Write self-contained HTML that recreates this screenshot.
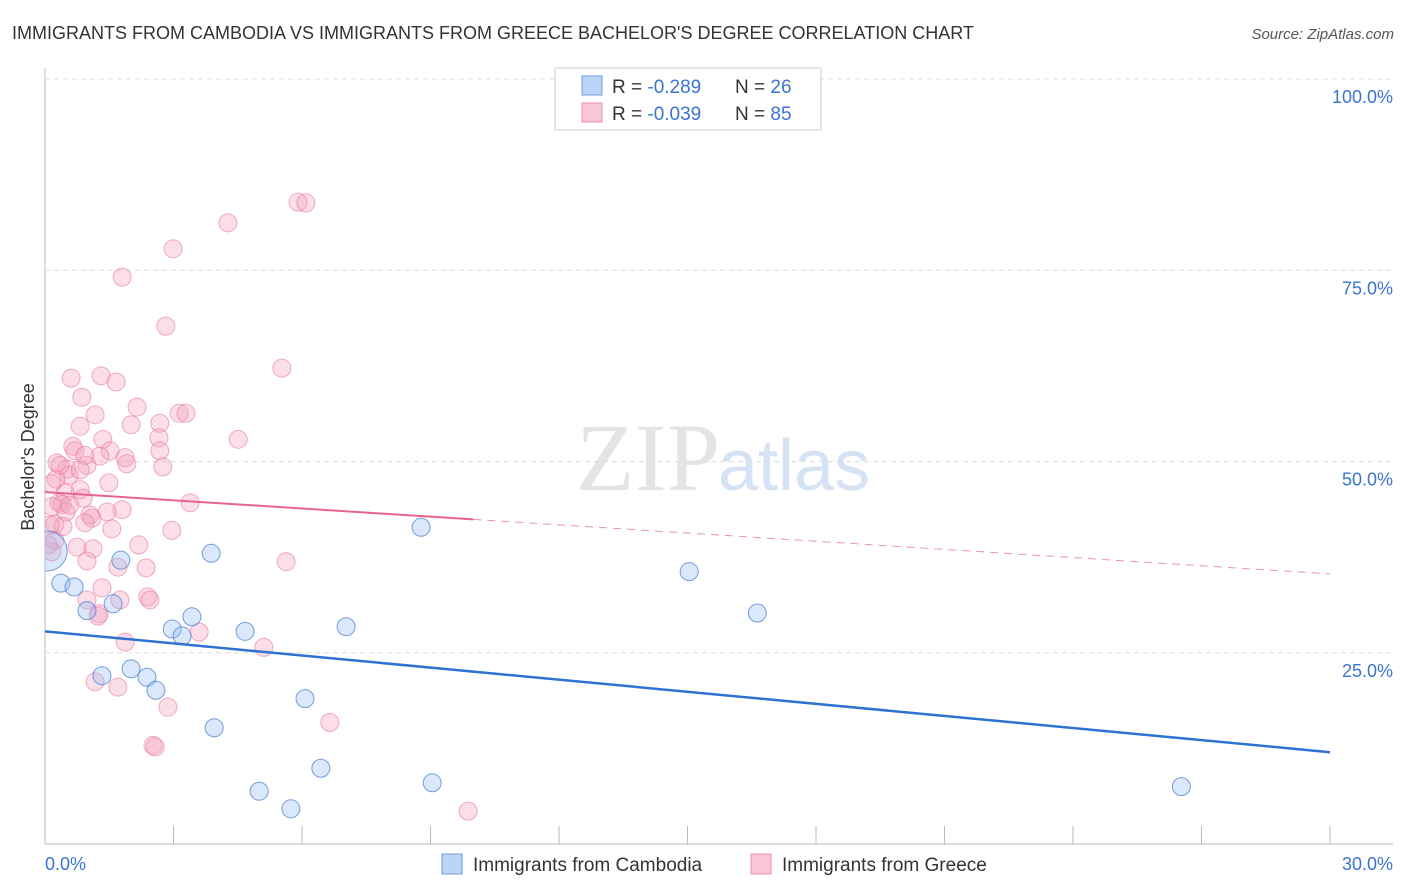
<!DOCTYPE html>
<html><head><meta charset="utf-8"><style>
body{margin:0;background:#fff;font-family:"Liberation Sans",sans-serif}
svg{display:block}
</style></head><body>
<svg id="c" width="1406" height="892" xmlns="http://www.w3.org/2000/svg">
<defs><clipPath id="plot"><rect x="45" y="60" width="1360" height="784"/></clipPath></defs>
<text x="12" y="39" font-size="18" fill="#333">IMMIGRANTS FROM CAMBODIA VS IMMIGRANTS FROM GREECE BACHELOR'S DEGREE CORRELATION CHART</text>
<text x="1394" y="39" font-size="15" fill="#555" font-style="italic" text-anchor="end">Source: ZipAtlas.com</text>
<text x="720" y="490" font-size="96" fill="#e4e4e4" text-anchor="end" font-family="Liberation Serif,serif">ZIP</text>
<text x="718" y="490" font-size="72" fill="#d6e3f4">atlas</text>
<text transform="translate(34,457) rotate(-90)" font-size="18" fill="#333" text-anchor="middle">Bachelor's Degree</text>
<g id="grid"></g><g id="marks" clip-path="url(#plot)"></g>
<g>
<rect x="555" y="68" width="266" height="62" fill="#fff" stroke="#ccc"/>
<rect x="582" y="76" width="20" height="19" fill="#bcd4f5" stroke="#6a9ee6"/>
<rect x="582" y="103" width="20" height="19" fill="#f9c6d6" stroke="#ee90ad"/>
<text x="612" y="93" font-size="19" fill="#333">R = <tspan fill="#3a74d0">-0.289</tspan><tspan x="735">N = </tspan><tspan fill="#3a74d0">26</tspan></text>
<text x="612" y="120" font-size="19" fill="#333">R = <tspan fill="#3a74d0">-0.039</tspan><tspan x="735">N = </tspan><tspan fill="#3a74d0">85</tspan></text>
</g>
<g>
<rect x="442" y="854" width="20" height="20" fill="#bcd4f5" stroke="#6a9ee6"/>
<text x="473" y="871" font-size="19" fill="#333">Immigrants from Cambodia</text>
<rect x="751" y="854" width="20" height="20" fill="#f9c6d6" stroke="#ee90ad"/>
<text x="782" y="871" font-size="19" fill="#333">Immigrants from Greece</text>
</g>
</svg>
<script>
const blueX=[0.05,0.37,0.68,0.98,1.59,1.77,1.33,2.01,2.38,2.59,2.97,3.20,3.43,3.88,3.95,4.67,5.00,5.74,6.07,6.44,7.03,8.78,9.04,15.04,16.63,26.53];
const blueY=[38.3,34.1,33.6,30.5,31.4,37.1,22.0,22.9,21.8,20.1,28.1,27.2,29.7,38.0,15.2,27.8,6.9,4.6,19.0,9.9,28.4,41.4,8.0,35.6,30.2,7.5];
const pinkX=[5.91,6.09,4.27,2.99,1.80,2.82,5.53,0.61,1.31,1.66,0.86,1.17,2.15,3.13,3.29,0.82,2.01,2.68,4.51,1.35,2.66,0.65,0.70,1.52,2.68,0.28,0.98,1.87,1.91,2.75,0.51,0.56,0.26,0.16,1.49,0.82,0.47,0.89,0.33,0.40,3.39,0.16,0.49,1.05,1.80,1.45,1.10,0.23,0.42,0.93,1.56,2.96,0.23,0.75,2.19,1.12,0.16,0.98,1.70,2.36,5.63,1.33,0.98,2.40,2.45,1.26,1.24,3.60,1.87,5.11,1.17,1.70,2.87,6.65,2.52,2.57,9.88,0.35,1.28,0.07,0.12,0.82,0.58,0.93,1.75];
const pinkY=[83.9,83.8,81.2,77.8,74.1,67.7,62.2,60.9,61.2,60.4,58.4,56.1,57.1,56.3,56.3,54.6,54.8,55.0,52.9,52.9,53.1,52.0,51.4,51.4,51.4,49.8,49.5,50.5,49.7,49.3,49.0,48.2,47.7,47.1,47.2,46.3,45.9,45.2,44.6,44.4,44.6,44.1,43.4,43.0,43.7,43.4,42.6,41.8,41.5,42.0,41.2,41.0,39.7,38.8,39.1,38.6,38.2,37.0,36.2,36.1,36.9,33.5,31.9,32.3,31.9,30.1,29.8,27.7,26.4,25.7,21.2,20.5,17.9,15.9,12.9,12.7,4.3,49.5,50.7,39.1,41.7,48.9,44.3,50.8,31.9];
const blueTrend=[27.8,12.0];
const pinkTrend=[46.0,35.3];
const pinkSolidEnd=10;
const yTicks=[25,50,75,100];
const xTickLabels=["0.0%","30.0%"];
const X=v=>45+v*1285/30, Y=v=>844-v*7.65;
const NS="http://www.w3.org/2000/svg";
function mk(t,a,p){const e=document.createElementNS(NS,t);for(const k in a)e.setAttribute(k,a[k]);p.appendChild(e);return e;}
const g=document.getElementById('grid'), m=document.getElementById('marks');
mk('line',{x1:45,y1:68,x2:45,y2:844,stroke:'#bbb'},g);
mk('line',{x1:45,y1:844,x2:1393,y2:844,stroke:'#bbb'},g);
for(let i=0;i<=10;i++){const t=mk('line',{x1:X(i*3),y1:826,x2:X(i*3),y2:844,stroke:'#bbb'},g);

}
yTicks.forEach(v=>{const l=mk('line',{x1:45,y1:Y(v),x2:1393,y2:Y(v),stroke:'#ddd','stroke-dasharray':'5,4'},g);


const t=mk('text',{x:1393,y:Y(v)+24,'font-size':18,fill:'#3a74d0','text-anchor':'end'},g);t.textContent=v.toFixed(1)+'%';

});
const xl0=mk('text',{x:45,y:870,'font-size':18,fill:'#3a74d0'},g);xl0.textContent=xTickLabels[0];


const xl1=mk('text',{x:1393,y:870,'font-size':18,fill:'#3a74d0','text-anchor':'end'},g);xl1.textContent=xTickLabels[1];


pinkX.forEach((x,i)=>{const c=mk('circle',{cx:X(x),cy:Y(pinkY[i]),r:9,fill:'rgba(244,160,188,0.35)',stroke:'rgba(232,120,155,0.6)','stroke-width':1},m);

});
blueX.forEach((x,i)=>{const c=mk('circle',{cx:X(x),cy:Y(blueY[i]),r:i===0?20:9,fill:'rgba(150,190,240,0.35)',stroke:'rgba(60,120,210,0.7)','stroke-width':1},m);

});
const py=x=>pinkTrend[0]+(pinkTrend[1]-pinkTrend[0])*x/30;
const pl=mk('line',{x1:X(0),y1:Y(pinkTrend[0]),x2:X(pinkSolidEnd),y2:Y(py(pinkSolidEnd)),stroke:'#e8648f','stroke-width':2},m);


const pd=mk('line',{x1:X(pinkSolidEnd),y1:Y(py(pinkSolidEnd)),x2:X(30),y2:Y(pinkTrend[1]),stroke:'#e8648f','stroke-width':1,'stroke-dasharray':'8,6','opacity':0.7},m);


const bl=mk('line',{x1:X(0),y1:Y(blueTrend[0]),x2:X(30),y2:Y(blueTrend[1]),stroke:'#2e72d2','stroke-width':2.5},m);


</script>
</body></html>
